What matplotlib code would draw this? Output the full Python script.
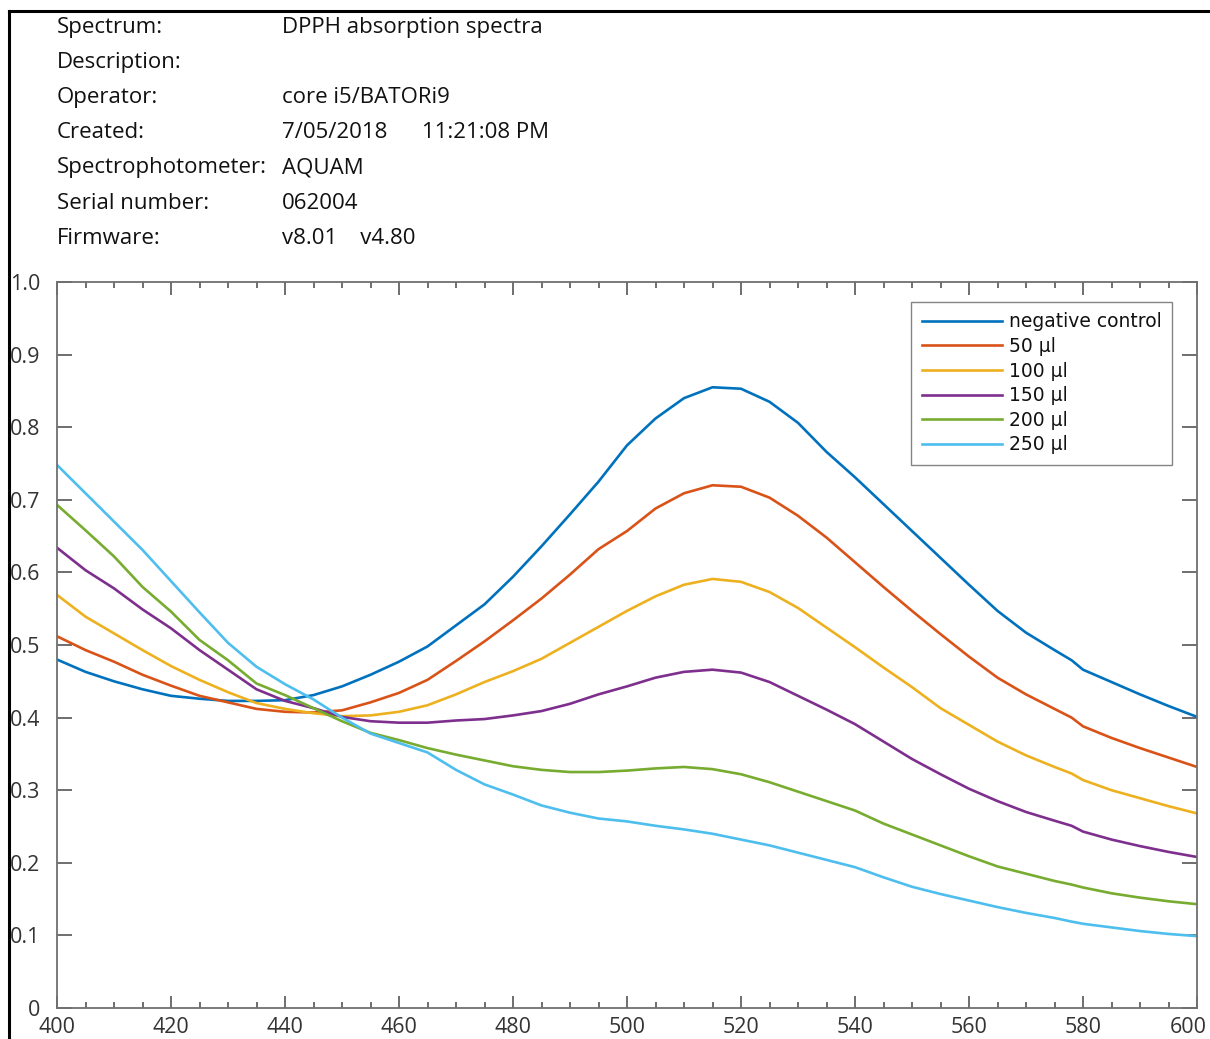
import matplotlib
matplotlib.use("Agg")
import matplotlib.pyplot as plt
from matplotlib.lines import Line2D
from matplotlib.ticker import MultipleLocator
from matplotlib.transforms import ScaledTranslation

# ---- data ----
wavelength = [400, 405, 410, 415, 420, 425, 430, 435, 440, 445, 450, 455, 460, 465, 470,
              475, 480, 485, 490, 495, 500, 505, 510, 515, 520, 525, 530, 535, 540, 545,
              550, 555, 560, 565, 570, 575, 578, 580, 585, 590, 595, 600]

negative_control = [0.480, 0.463, 0.450, 0.439, 0.430, 0.426, 0.423, 0.423, 0.424, 0.431,
                    0.443, 0.459, 0.477, 0.498, 0.527, 0.556, 0.594, 0.636, 0.680, 0.725,
                    0.775, 0.812, 0.840, 0.855, 0.853, 0.835, 0.806, 0.766, 0.731, 0.694,
                    0.657, 0.620, 0.583, 0.547, 0.517, 0.493, 0.479, 0.466, 0.449, 0.432,
                    0.416, 0.401]
ul_50 = [0.512, 0.493, 0.477, 0.459, 0.444, 0.430, 0.421, 0.412, 0.408, 0.407,
         0.410, 0.421, 0.434, 0.452, 0.478, 0.505, 0.534, 0.564, 0.597, 0.632,
         0.657, 0.688, 0.709, 0.720, 0.718, 0.703, 0.678, 0.648, 0.614, 0.580,
         0.547, 0.515, 0.484, 0.455, 0.432, 0.412, 0.400, 0.388, 0.372, 0.358,
         0.345, 0.332]
ul_100 = [0.569, 0.539, 0.516, 0.493, 0.471, 0.452, 0.435, 0.420, 0.412, 0.406,
          0.402, 0.403, 0.408, 0.417, 0.432, 0.449, 0.464, 0.481, 0.503, 0.525,
          0.547, 0.567, 0.583, 0.591, 0.587, 0.573, 0.551, 0.524, 0.497, 0.469,
          0.442, 0.413, 0.390, 0.367, 0.348, 0.332, 0.323, 0.314, 0.300, 0.289,
          0.278, 0.268]
ul_150 = [0.634, 0.603, 0.578, 0.549, 0.523, 0.493, 0.466, 0.439, 0.423, 0.413,
          0.401, 0.395, 0.393, 0.393, 0.396, 0.398, 0.403, 0.409, 0.419, 0.432,
          0.443, 0.455, 0.463, 0.466, 0.462, 0.449, 0.430, 0.411, 0.391, 0.367,
          0.343, 0.322, 0.302, 0.285, 0.270, 0.258, 0.251, 0.243, 0.232, 0.223,
          0.215, 0.208]
ul_200 = [0.693, 0.658, 0.622, 0.580, 0.546, 0.507, 0.479, 0.447, 0.431, 0.413,
          0.395, 0.379, 0.369, 0.358, 0.349, 0.341, 0.333, 0.328, 0.325, 0.325,
          0.327, 0.330, 0.332, 0.329, 0.322, 0.311, 0.298, 0.285, 0.272, 0.254,
          0.239, 0.224, 0.209, 0.195, 0.185, 0.175, 0.170, 0.166, 0.158, 0.152,
          0.147, 0.143]
ul_250 = [0.748, 0.709, 0.670, 0.631, 0.588, 0.545, 0.503, 0.470, 0.446, 0.425,
          0.400, 0.378, 0.365, 0.352, 0.328, 0.308, 0.294, 0.279, 0.269, 0.261,
          0.257, 0.251, 0.246, 0.240, 0.232, 0.224, 0.214, 0.204, 0.194, 0.180,
          0.167, 0.157, 0.148, 0.139, 0.131, 0.124, 0.119, 0.116, 0.111, 0.106,
          0.102, 0.099]

series_labels = ["negative control", "50 μl", "100 μl", "150 μl", "200 μl", "250 μl"]
series_colors = ["#0072BD", "#D95319", "#EDB120", "#7E2F8E", "#77AC30", "#4DBEEE"]

header_keys = ["Spectrum:", "Description:", "Operator:", "Created:",
               "Spectrophotometer:", "Serial number:", "Firmware:"]
header_values = ["DPPH absorption spectra", "", "core i5/BATORi9",
                 "7/05/2018      11:21:08 PM", "AQUAM", "062004", "v8.01    v4.80"]

x_ticks = [400, 420, 440, 460, 480, 500, 520, 540, 560, 580, 600]
y_ticks = [0, 0.1, 0.2, 0.3, 0.4, 0.5, 0.6, 0.7, 0.8, 0.9, 1.0]
y_tick_labels = ["0", "0.1", "0.2", "0.3", "0.4", "0.5", "0.6", "0.7", "0.8", "0.9", "1.0"]

# ---- figure ----
W, H = 1210, 1039
fig = plt.figure(figsize=(W / 100, H / 100), dpi=100)
fig.patch.set_facecolor("white")

# outer frame (left and top black border)
fig.add_artist(Line2D([9 / W, 9 / W], [0, 1 - 11 / H], color="black", lw=2.2,
                      transform=fig.transFigure))
fig.add_artist(Line2D([9 / W, 1], [1 - 11 / H, 1 - 11 / H], color="black", lw=2.2,
                      transform=fig.transFigure))

# header text
hfont = "Open Sans"
for i, (k, v) in enumerate(zip(header_keys, header_values)):
    yc = 1 - (27 + 35.2 * i) / H
    fig.text(57 / W, yc, k, ha="left", va="center", fontsize=16, family=hfont,
             color="#111111")
    if v:
        fig.text(282 / W, yc, v, ha="left", va="center", fontsize=16, family=hfont,
                 color="#111111")

ax = fig.add_axes([57 / W, 1 - 1008 / H, (1197 - 57) / W, (1008 - 282) / H])
series = [negative_control, ul_50, ul_100, ul_150, ul_200, ul_250]
for vals, lab, col in zip(series, series_labels, series_colors):
    ax.plot(wavelength, vals, color=col, lw=1.9, label=lab)

ax.set_xlim(400, 600)
ax.set_ylim(0, 1)
ax.set_xticks(x_ticks)
ax.set_yticks(y_ticks)
ax.set_yticklabels(y_tick_labels)
ax.xaxis.set_minor_locator(MultipleLocator(5))

for s in ax.spines.values():
    s.set_color("#707070")
    s.set_linewidth(1.3)

ax.tick_params(axis="both", which="both", direction="in", colors="#555555",
               top=True, right=True, width=1.2)
ax.tick_params(axis="x", which="major", length=9, pad=6.5, labelsize=15.5,
               labelcolor="#333333")
ax.tick_params(axis="x", which="minor", length=4.5)
ax.tick_params(axis="y", which="major", length=11, pad=12, labelsize=15.5,
               labelcolor="#333333")
for lab in ax.get_xticklabels() + ax.get_yticklabels():
    lab.set_family(hfont)

# keep the last x label inside the picture
last = ax.xaxis.get_major_ticks()[-1].label1
last.set_transform(last.get_transform() + ScaledTranslation(-9 / 100, 0, fig.dpi_scale_trans))

leg = ax.legend(loc="upper right", bbox_to_anchor=((1172 - 57) / 1140, (1008 - 302) / 726),
                borderaxespad=0, fancybox=False, frameon=True,
                handlelength=4.3, handletextpad=0.35, labelspacing=0.3,
                borderpad=0.55, prop={"family": "DejaVu Sans", "size": 13.5})
leg.get_frame().set_edgecolor("#666666")
leg.get_frame().set_linewidth(1.0)
for t in leg.get_texts():
    t.set_color("#111111")

fig.savefig("out.png", dpi=100, facecolor="white")
